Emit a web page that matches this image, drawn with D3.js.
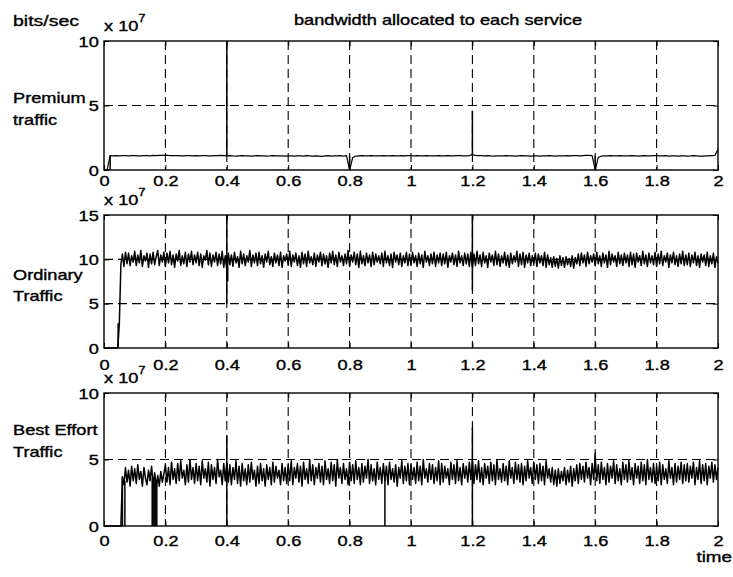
<!DOCTYPE html>
<html>
<head>
<meta charset="utf-8">
<script src="https://cdn.jsdelivr.net/npm/d3@7"></script>
<style>
  body { margin: 0; background: #fff; }
  svg text { font-family: "Liberation Sans", Arial, sans-serif; fill: #000; stroke: #000; stroke-width: 0.35px; }
</style>
</head>
<body>
<div id="wrapper"></div>
<script>
// values are in units of 1e6 bits/sec, sampled on a fixed time step (seconds)
const xTicks = [0, 0.2, 0.4, 0.6, 0.8, 1, 1.2, 1.4, 1.6, 1.8, 2]
const xGrid = [0.2, 0.4, 0.6, 0.8, 1, 1.2, 1.4, 1.6, 1.8]

const premiumTicks = [0, 5, 10]
const ordinaryTicks = [0, 5, 10, 15]
const bestEffortTicks = [0, 5, 10]

const premiumStep = 0.01
const premium = [
  0, 0, 11.2, 11.0, 11.1, 10.9, 11.2, 11.1, 11.0, 11.2,
  11.1, 10.9, 11.0, 11.2, 11.1, 11.0, 11.3, 11.2, 11.4, 11.3,
  11.5, 11.3, 11.2, 11.1, 11.2, 11.0, 10.9, 11.1, 11.2, 11.0,
  11.1, 11.0, 11.2, 11.1, 10.9, 11.0, 11.2, 11.1, 11.3, 11.2,
  11.0, 11.1, 10.9, 10.8, 11.0, 11.1, 10.9, 11.0, 10.8, 11.0,
  11.1, 10.9, 11.0, 10.8, 10.9, 11.1, 11.0, 10.9, 11.0, 10.8,
  10.9, 11.0, 10.7, 10.9, 11.0, 10.8, 11.1, 10.9, 10.7, 11.0,
  10.8, 10.6, 10.9, 11.1, 10.7, 10.9, 11.0, 11.2, 10.8, 11.1,
  0, 9.5, 10.8, 11.0, 11.1, 10.9, 11.0, 11.1, 11.0, 10.9,
  11.0, 11.1, 10.9, 11.0, 11.2, 11.0, 10.9, 11.1, 11.0, 11.1,
  11.2, 11.0, 11.1, 10.9, 11.0, 11.1, 11.0, 10.9, 11.0, 11.1,
  11.0, 10.9, 11.1, 11.0, 11.0, 11.2, 11.1, 11.0, 10.9, 11.1,
  12.0, 11.4, 11.2, 11.1, 11.0, 11.1, 10.9, 10.8, 11.0, 10.9,
  11.0, 11.1, 10.9, 11.0, 10.8, 11.0, 11.1, 10.9, 11.0, 10.8,
  10.9, 11.0, 10.8, 11.0, 10.9, 11.1, 11.0, 10.8, 10.9, 11.0,
  10.9, 11.1, 11.0, 11.2, 11.1, 11.0, 11.2, 11.3, 11.4, 11.2,
  0, 9.8, 10.7, 11.0, 10.9, 11.1, 11.0, 10.9, 11.1, 11.0,
  11.0, 10.9, 11.1, 11.0, 10.8, 11.0, 11.1, 10.9, 11.0, 11.1,
  11.1, 10.9, 11.0, 11.1, 10.8, 10.9, 11.0, 10.7, 10.9, 11.0,
  10.8, 10.9, 11.1, 10.9, 10.7, 10.8, 11.0, 10.9, 11.1, 11.3,
  16
]
// [time, low, high] vertical strokes
const premiumSpikes = [[0.02, 0, 11.2], [0.4, 11, 100], [0.8, 0, 11], [1.2, 11, 46], [1.6, 0, 11]]

const ordinaryStep = 0.005
const ordinary = [
  0, 0, 0, 0, 0, 0, 0, 0, 0, 0, 28, 94, 106, 92, 108, 95, 107, 93, 104, 97,
  109, 93, 105, 96, 110, 92, 104, 98, 107, 91, 106, 95, 108, 94, 103, 110, 93, 105, 97, 108,
  92, 107, 96, 109, 94, 105, 91, 106, 98, 110, 93, 104, 95, 108, 92, 106, 97, 109, 94, 105,
  96, 108, 93, 106, 91, 104, 99, 110, 94, 107, 92, 105, 97, 108, 93, 106, 95, 109, 91, 104,
  88, 107, 94, 105, 92, 108, 96, 103, 91, 109, 95, 106, 93, 104, 97, 110, 92, 105, 96, 107,
  93, 108, 95, 104, 91, 106, 97, 109, 94, 103, 92, 107, 96, 105, 93, 108, 91, 104, 98, 106,
  94, 109, 92, 105, 97, 107, 93, 104, 91, 108, 95, 106, 92, 109, 96, 103, 94, 107, 92, 105,
  97, 108, 93, 106, 95, 104, 91, 107, 96, 109, 94, 105, 92, 108, 97, 104, 93, 106, 95, 110,
  92, 105, 97, 108, 94, 106, 91, 109, 95, 104, 93, 107, 96, 105, 92, 108, 94, 106, 97, 104,
  95, 107, 92, 109, 96, 104, 93, 106, 91, 108, 97, 105, 94, 107, 92, 104, 96, 108, 93, 106,
  94, 108, 96, 104, 92, 107, 95, 105, 91, 109, 97, 104, 93, 106, 95, 108, 92, 105, 96, 107,
  93, 106, 95, 108, 91, 104, 97, 107, 94, 105, 92, 109, 96, 104, 93, 107, 95, 106, 92, 108,
  90, 106, 93, 109, 95, 105, 92, 108, 96, 104, 91, 107, 97, 105, 93, 109, 94, 106, 92, 104,
  96, 108, 93, 105, 91, 107, 95, 104, 97, 109, 92, 106, 94, 108, 91, 105, 96, 107, 93, 104,
  95, 107, 92, 106, 96, 104, 93, 108, 91, 105, 94, 102, 91, 103, 92, 101, 90, 104, 93, 102,
  91, 103, 94, 101, 92, 104, 90, 102, 95, 106, 93, 107, 96, 105, 92, 108, 95, 104, 97, 106,
  93, 108, 95, 104, 92, 107, 96, 105, 91, 109, 94, 106, 97, 104, 92, 108, 95, 105, 93, 107,
  96, 105, 92, 108, 94, 106, 91, 107, 97, 104, 93, 109, 95, 105, 92, 107, 96, 104, 94, 108,
  92, 106, 95, 109, 93, 104, 97, 107, 91, 105, 96, 108, 94, 104, 92, 106, 95, 109, 93, 105,
  94, 107, 92, 105, 96, 108, 93, 104, 91, 106, 97, 105, 93, 108, 92, 104, 95, 107, 91, 103,
  96
]
const ordinarySpikes = [[0.046, 0, 28], [0.4, 50, 150], [0.403, 75, 104], [1.2, 65, 150]]

const bestEffortStep = 0.005
const bestEffort = [
  0, 0, 0, 0, 0, 0, 0, 0, 0, 0, 0, 0, 37, 31, 44, 33, 42, 30, 45, 34,
  43, 32, 46, 35, 41, 30, 44, 36, 31, 42, 34, 45, 31, 40, 29, 38, 30, 41, 33, 39,
  46, 33, 44, 31, 48, 35, 43, 32, 47, 34, 49, 36, 42, 31, 46, 33, 50, 35, 44, 32,
  47, 34, 45, 31, 49, 36, 43, 33, 48, 30, 46, 35, 44, 32, 50, 37, 42, 31, 47, 34,
  48, 33, 46, 31, 44, 35, 49, 32, 45, 30, 47, 34, 43, 31, 46, 33, 48, 35, 42, 30,
  45, 32, 47, 34, 43, 30, 46, 35, 44, 31, 48, 33, 45, 36, 42, 31, 47, 34, 44, 32,
  46, 34, 49, 31, 44, 36, 47, 33, 45, 30, 48, 35, 43, 32, 50, 34, 46, 31, 44, 36,
  47, 33, 45, 31, 49, 35, 43, 32, 48, 34, 46, 30, 50, 36, 44, 32, 47, 35, 43, 31,
  48, 34, 46, 32, 49, 35, 44, 31, 47, 33, 45, 36, 50, 32, 46, 34, 43, 31, 48, 35,
  44, 32, 47, 34, 45, 31, 48, 35, 43, 33, 46, 30, 44, 36, 49, 32, 45, 34, 47, 31,
  46, 35, 44, 32, 48, 34, 45, 31, 50, 36, 43, 33, 47, 35, 46, 32, 44, 34, 49, 31,
  47, 33, 45, 36, 43, 31, 48, 35, 46, 32, 49, 34, 44, 31, 47, 36, 45, 33, 48, 35,
  50, 32, 46, 35, 49, 33, 44, 31, 47, 36, 45, 32, 48, 34, 46, 31, 50, 35, 43, 33,
  47, 34, 45, 31, 49, 36, 44, 32, 48, 35, 46, 33, 47, 31, 45, 34, 49, 36, 44, 32,
  48, 35, 46, 32, 47, 34, 45, 31, 49, 36, 43, 33, 44, 31, 42, 30, 43, 32, 41, 34,
  44, 31, 42, 33, 45, 30, 43, 34, 46, 32, 47, 35, 45, 33, 48, 36, 44, 31, 47, 35,
  52, 34, 46, 32, 48, 35, 44, 31, 47, 33, 45, 36, 49, 32, 46, 34, 43, 31, 48, 35,
  46, 33, 49, 35, 44, 31, 47, 36, 45, 32, 48, 34, 46, 31, 50, 35, 44, 33, 47, 32,
  45, 34, 48, 31, 46, 35, 43, 32, 49, 36, 44, 31, 47, 33, 45, 35, 48, 32, 46, 34,
  47, 33, 45, 36, 48, 31, 44, 35, 49, 32, 46, 34, 47, 31, 45, 36, 48, 33, 46, 35,
  44
]
const bestEffortSpikes = [
  [0.06, 0, 37], [0.068, 0, 34],
  [0.157, 0, 36], [0.16, 0, 35], [0.163, 0, 33], [0.166, 0, 36], [0.169, 0, 34], [0.172, 0, 35],
  [0.4, 0, 68], [0.915, 0, 38], [1.2, 0, 74], [1.6, 40, 55]
]

// layout
const width = 733
const height = 577
const stretch = 1.3   // scanned text is wider than Liberation Sans
const fontSize = 14

const panels = [
  { values: premium, step: premiumStep, spikes: premiumSpikes, ticks: premiumTicks, yMax: 10,
    top: 41, bottom: 170, labelGap: 16, traceWidth: 1.2,
    names: ["Premium", "traffic"], nameY: [103, 125] },
  { values: ordinary, step: ordinaryStep, spikes: ordinarySpikes, ticks: ordinaryTicks, yMax: 15,
    top: 215, bottom: 348, labelGap: 22, traceWidth: 1.5,
    names: ["Ordinary", "Traffic"], nameY: [280, 301] },
  { values: bestEffort, step: bestEffortStep, spikes: bestEffortSpikes, ticks: bestEffortTicks, yMax: 10,
    top: 393, bottom: 526, labelGap: 20, traceWidth: 1.5,
    names: ["Best Effort", "Traffic"], nameY: [435, 457] }
]

const svg = d3.select("#wrapper")
  .append("svg")
  .attr("width", width)
  .attr("height", height)

const addText = (parent, x, y, str, anchor = "start", size = fontSize) =>
  parent.append("text")
    .attr("transform", `translate(${x},${y}) scale(${stretch},1)`)
    .attr("text-anchor", anchor)
    .style("font-size", size + "px")
    .text(str)

const xScale = d3.scaleLinear()
  .domain([0, 2])
  .range([104, 718])

panels.forEach(p => {
  const yScale = d3.scaleLinear()
    .domain([0, p.yMax])
    .range([p.bottom, p.top])

  const g = svg.append("g")

  // grid
  g.selectAll(".vgrid")
    .data(xGrid)
    .join("line")
    .attr("x1", d => xScale(d)).attr("x2", d => xScale(d))
    .attr("y1", p.top).attr("y2", p.bottom)
    .attr("stroke", "#000").attr("stroke-width", 1.1)
    .attr("stroke-dasharray", "9,5")

  g.selectAll(".hgrid")
    .data(p.ticks.filter(t => t > 0 && t < p.yMax))
    .join("line")
    .attr("x1", xScale(0)).attr("x2", xScale(2))
    .attr("y1", d => yScale(d)).attr("y2", d => yScale(d))
    .attr("stroke", "#000").attr("stroke-width", 1.1)
    .attr("stroke-dasharray", "9,5")

  // trace
  const line = d3.line()
    .x((d, i) => xScale(i * p.step))
    .y(d => yScale(d / 10))

  g.append("path")
    .datum(p.values)
    .attr("d", line)
    .attr("fill", "none")
    .attr("stroke", "#000")
    .attr("stroke-width", p.traceWidth)
    .attr("stroke-linejoin", "round")

  g.selectAll(".spike")
    .data(p.spikes)
    .join("line")
    .attr("x1", d => xScale(d[0])).attr("x2", d => xScale(d[0]))
    .attr("y1", d => yScale(d[1] / 10)).attr("y2", d => yScale(d[2] / 10))
    .attr("stroke", "#000").attr("stroke-width", 1.5)

  // axes
  const xAxis = g.append("g")
    .attr("transform", `translate(0,${p.bottom})`)
    .call(d3.axisBottom(xScale).tickValues(xTicks).tickFormat(d3.format(""))
      .tickSizeInner(-5).tickSizeOuter(0))
  xAxis.selectAll("text")
    .attr("y", p.labelGap).attr("dy", 0)
    .attr("transform", `scale(${stretch},1)`)

  g.append("g")
    .attr("transform", `translate(0,${p.top})`)
    .call(d3.axisTop(xScale).tickValues(xTicks).tickFormat("")
      .tickSizeInner(-5).tickSizeOuter(0))

  const yAxis = g.append("g")
    .attr("transform", `translate(${xScale(0)},0)`)
    .call(d3.axisLeft(yScale).tickValues(p.ticks)
      .tickSizeInner(-5).tickSizeOuter(0))
  yAxis.selectAll("text")
    .attr("x", -4).attr("dy", "0.36em")
    .attr("transform", `scale(${stretch},1)`)

  g.append("g")
    .attr("transform", `translate(${xScale(2)},0)`)
    .call(d3.axisRight(yScale).tickValues(p.ticks).tickFormat("")
      .tickSizeInner(-5).tickSizeOuter(0))

  g.selectAll(".domain").remove()
  g.selectAll(".tick line").attr("stroke", "#000")
  g.selectAll(".tick text")
    .style("font-family", '"Liberation Sans", Arial, sans-serif')
    .style("font-size", fontSize + "px")
    .attr("fill", "#000")

  // frame
  g.append("rect")
    .attr("x", xScale(0)).attr("y", p.top)
    .attr("width", xScale(2) - xScale(0))
    .attr("height", p.bottom - p.top)
    .attr("fill", "none")
    .attr("stroke", "#000")
    .attr("stroke-width", 1.4)

  // exponent
  const exp = addText(g, 104, p.top - 10, "x 10")
  exp.append("tspan")
    .attr("dy", -9)
    .style("font-size", "10px")
    .text("7")

  // panel name
  p.names.forEach((n, i) => addText(g, 13, p.nameY[i], n))
})

addText(svg, 13, 26, "bits/sec", "start", 15)
addText(svg, 438, 25, "bandwidth allocated to each service", "middle")
addText(svg, 732, 562, "time", "end", 14.5)
</script>
</body>
</html>
